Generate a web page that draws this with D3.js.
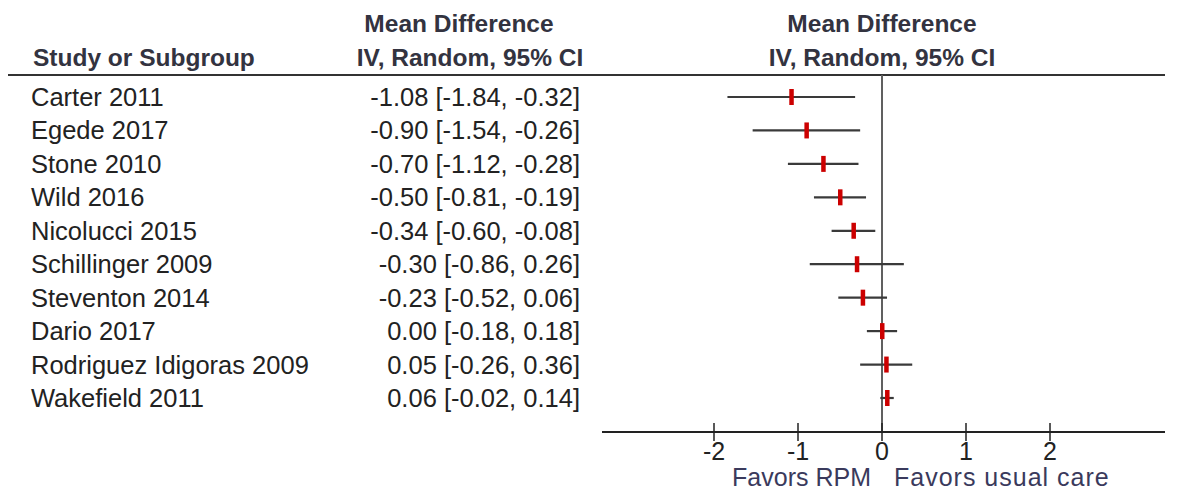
<!DOCTYPE html>
<html>
<head>
<meta charset="utf-8">
<script src="https://cdn.jsdelivr.net/npm/d3@7"></script>
<style>
  body { margin: 0; background: #fff; }
  text { font-family: "Liberation Sans", Arial, sans-serif; }
</style>
</head>
<body>
<div id="forest"></div>
<script>
// 연구별 데이터
var studies = ["Carter 2011", "Egede 2017", "Stone 2010", "Wild 2016", "Nicolucci 2015",
  "Schillinger 2009", "Steventon 2014", "Dario 2017", "Rodriguez Idigoras 2009", "Wakefield 2011"];
var md = [-1.08, -0.90, -0.70, -0.50, -0.34, -0.30, -0.23, 0.00, 0.05, 0.06];
var lower = [-1.84, -1.54, -1.12, -0.81, -0.60, -0.86, -0.52, -0.18, -0.26, -0.02];
var upper = [-0.32, -0.26, -0.28, -0.19, -0.08, 0.26, 0.06, 0.18, 0.36, 0.14];
var ticks = [-2, -1, 0, 1, 2];
var favorLabels = ["Favors RPM", "Favors usual care"];

var W = 1179, H = 496;
var svg = d3.select("#forest").append("svg")
  .attr("width", W)
  .attr("height", H);

// 스케일
var x = d3.scaleLinear().domain([-2, 2]).range([714, 1050]);
var y = d3.scalePoint().domain(studies).range([97, 398]);
var axisY = 432;
var textCol = "#222";
var headCol = "#333340";
var fs = "25.5px";

// 헤더
var head = svg.append("g")
  .style("font-weight", "bold")
  .style("font-size", "24.5px")
  .attr("fill", headCol);
head.append("text").attr("x", 33).attr("y", 66).text("Study or Subgroup");
head.append("text").attr("x", 459).attr("y", 32).attr("text-anchor", "middle").text("Mean Difference");
head.append("text").attr("x", 470).attr("y", 66).attr("text-anchor", "middle").text("IV, Random, 95% CI");
head.append("text").attr("x", x(0)).attr("y", 32).attr("text-anchor", "middle").text("Mean Difference");
head.append("text").attr("x", x(0)).attr("y", 66).attr("text-anchor", "middle").text("IV, Random, 95% CI");

svg.append("line")
  .attr("x1", 8).attr("x2", 1165)
  .attr("y1", 75).attr("y2", 75)
  .attr("stroke", "#333").attr("stroke-width", 2);

// 연구 이름과 수치
var rows = svg.append("g").style("font-size", fs).attr("fill", textCol);
rows.selectAll(".name")
  .data(studies)
  .enter()
  .append("text")
  .attr("x", 31)
  .attr("y", function(d) { return y(d) + 9; })
  .text(function(d) { return d; });

rows.selectAll(".val")
  .data(studies)
  .enter()
  .append("text")
  .attr("x", 580)
  .attr("text-anchor", "end")
  .attr("y", function(d) { return y(d) + 9; })
  .text(function(d, i) {
    return md[i].toFixed(2) + " [" + lower[i].toFixed(2) + ", " + upper[i].toFixed(2) + "]";
  });

// 0 기준선
svg.append("line")
  .attr("x1", x(0)).attr("x2", x(0))
  .attr("y1", 75).attr("y2", axisY)
  .attr("stroke", "#606060").attr("stroke-width", 2);

// 신뢰구간
svg.selectAll(".ci")
  .data(studies)
  .enter()
  .append("line")
  .attr("x1", function(d, i) { return x(lower[i]); })
  .attr("x2", function(d, i) { return x(upper[i]); })
  .attr("y1", function(d) { return y(d); })
  .attr("y2", function(d) { return y(d); })
  .attr("stroke", "#3a3a3a").attr("stroke-width", 2.2);

// 점 추정치
svg.selectAll(".pt")
  .data(studies)
  .enter()
  .append("rect")
  .attr("x", function(d, i) { return x(md[i]) - 2; })
  .attr("y", function(d) { return y(d) - 8; })
  .attr("width", 4.5)
  .attr("height", 16)
  .attr("fill", "#cc0000");

// x축
var axis = svg.append("g")
  .attr("transform", "translate(0," + axisY + ")");
axis.append("line")
  .attr("x1", 602).attr("x2", 1165)
  .attr("stroke", "#222").attr("stroke-width", 2);
axis.selectAll(".tick")
  .data(ticks)
  .enter()
  .append("line")
  .attr("x1", function(d) { return x(d); })
  .attr("x2", function(d) { return x(d); })
  .attr("y1", -9).attr("y2", 9)
  .attr("stroke", "#222").attr("stroke-width", 1.5);
axis.selectAll(".lbl")
  .data(ticks)
  .enter()
  .append("text")
  .attr("x", function(d) { return x(d); })
  .attr("y", 28)
  .attr("text-anchor", "middle")
  .style("font-size", "25px")
  .attr("fill", textCol)
  .text(function(d) { return d; });

// 방향 라벨
svg.append("text")
  .attr("x", x(0) - 11).attr("y", 486)
  .attr("text-anchor", "end")
  .style("font-size", "25px")
  .attr("fill", "#3a3a5c")
  .text(favorLabels[0]);
svg.append("text")
  .attr("x", x(0) + 12).attr("y", 486)
  .style("font-size", "25px")
  .style("letter-spacing", "1px")
  .attr("fill", "#3a3a5c")
  .text(favorLabels[1]);
</script>
</body>
</html>
